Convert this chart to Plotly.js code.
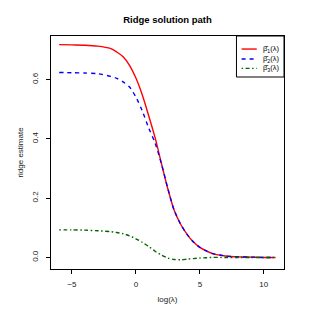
<!DOCTYPE html>
<html>
<head>
<meta charset="utf-8">
<script src="https://cdn.plot.ly/plotly-3.0.1.min.js"></script>
<style>html,body{margin:0;padding:0;background:#fff;}#chart{width:315px;height:315px;}</style>
</head>
<body>
<div id="chart"></div>
<script>
const logLambda = [-6, -5, -4, -3, -2, -1.5, -1, -0.5, 0, 0.5, 1, 1.5, 2, 2.5, 3, 3.5, 4, 4.5, 5, 5.5, 6, 7, 8, 9, 10, 10.9];
const beta1 = [0.718, 0.717, 0.716, 0.713, 0.705, 0.693, 0.677, 0.648, 0.605, 0.548, 0.478, 0.404, 0.316, 0.231, 0.158, 0.112, 0.078, 0.052, 0.034, 0.022, 0.013, 0.005, 0.002, 0.001, 0.0, 0.0];
const beta2 = [0.624, 0.623, 0.622, 0.620, 0.611, 0.604, 0.592, 0.575, 0.541, 0.494, 0.437, 0.386, 0.315, 0.232, 0.158, 0.112, 0.078, 0.052, 0.034, 0.022, 0.013, 0.005, 0.002, 0.001, 0.0, 0.0];
const beta3 = [0.093, 0.093, 0.092, 0.090, 0.087, 0.084, 0.080, 0.073, 0.063, 0.051, 0.037, 0.021, 0.008, -0.002, -0.007, -0.008, -0.006, -0.004, -0.002, -0.001, 0.0, 0.0, 0.0, 0.0, 0.0, 0.0];
const seriesNames = ["β\u0302<sub>1</sub>(λ)", "β\u0302<sub>2</sub>(λ)", "β\u0302<sub>3</sub>(λ)"];
const seriesColors = ["#ff0000", "#0000ff", "#006400"];
const seriesDash = ["solid", "4px,4px", "1.5px,2.5px,4px,2.5px"];
const xTicks = [-5, 0, 5, 10];
const xTickText = ["\u22125", "0", "5", "10"];
const yTicks = [0.0, 0.2, 0.4, 0.6];
const yTickText = ["0.0", "0.2", "0.4", "0.6"];

const series = [beta1, beta2, beta3];
const traces = series.map((vals, i) => ({
  x: logLambda, y: vals, type: 'scatter', mode: 'lines',
  line: {color: seriesColors[i], width: 1.4, dash: seriesDash[i], shape: 'spline', smoothing: 0.8},
  name: seriesNames[i], showlegend: false, hoverinfo: 'skip'
}));

const font = 'Liberation Sans, Arial, sans-serif';
const legY = [0.944, 0.901, 0.861];
const shapes = [{type: 'rect', xref: 'paper', yref: 'paper', x0: 0.796, x1: 1.0, y0: 0.824, y1: 1.0, line: {color: '#000', width: 1}, fillcolor: 'rgba(0,0,0,0)'}];
const annotations = [];
seriesNames.forEach((nm, i) => {
  shapes.push({type: 'line', xref: 'paper', yref: 'paper', x0: 0.818, x1: 0.883, y0: legY[i], y1: legY[i], line: {color: seriesColors[i], width: 1.4, dash: seriesDash[i]}});
  annotations.push({xref: 'paper', yref: 'paper', x: 0.902, y: legY[i], xanchor: 'left', yanchor: 'middle', text: nm, showarrow: false, font: {family: font, size: 7.5, color: '#000'}});
});

const layout = {
  width: 315, height: 315,
  margin: {l: 51, r: 31, t: 36, b: 46},
  paper_bgcolor: '#fff', plot_bgcolor: '#fff',
  font: {family: font, color: '#000'},
  title: {text: '<b>Ridge solution path</b>', x: 0.5, xref: 'paper', y: 1 - 20/315, yref: 'container', yanchor: 'middle', font: {family: font, size: 9.5, color: '#000'}},
  xaxis: {
    range: [-6.64, 11.58], showgrid: false, zeroline: false,
    showline: true, linecolor: '#000', linewidth: 1, mirror: true,
    ticks: 'outside', ticklen: 4, tickcolor: '#000', tickwidth: 1,
    tickvals: xTicks, ticktext: xTickText,
    tickfont: {family: font, size: 8, color: '#222'}, ticklabelstandoff: 3,
    title: {text: 'log(λ)', font: {family: font, size: 8, color: '#222'}, standoff: 8}
  },
  yaxis: {
    range: [-0.039, 0.747], showgrid: false, zeroline: false,
    showline: true, linecolor: '#000', linewidth: 1, mirror: true,
    ticks: 'outside', ticklen: 4, tickcolor: '#000', tickwidth: 1,
    tickvals: yTicks, ticktext: yTickText, tickangle: -90,
    tickfont: {family: font, size: 8, color: '#222'}, ticklabelstandoff: 5,
    title: {text: 'ridge estimate', font: {family: font, size: 8, color: '#222'}, standoff: 5}
  },
  shapes: shapes,
  annotations: annotations
};

Plotly.newPlot('chart', traces, layout, {staticPlot: true, displayModeBar: false});
</script>
</body>
</html>
